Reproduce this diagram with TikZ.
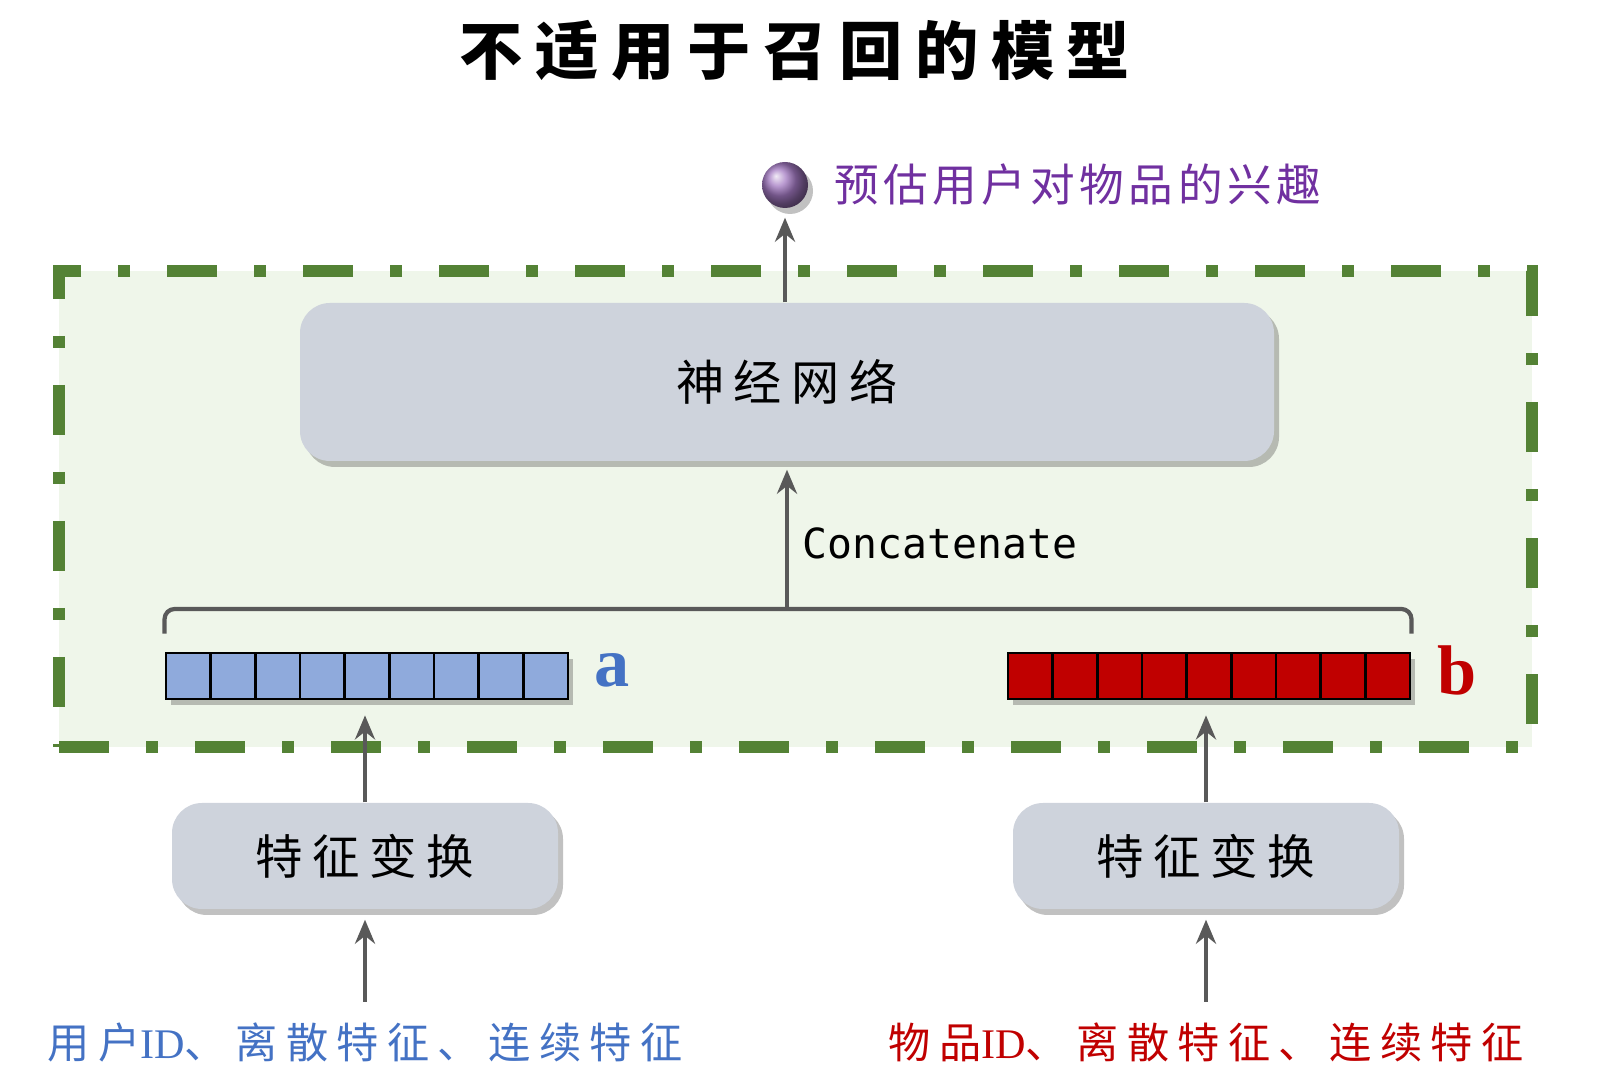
\documentclass[tikz,border=0pt]{standalone}
\usepackage{fontspec}
\usetikzlibrary{arrows.meta,shadows}
\newfontfamily\cjkA[LetterSpace=10]{Noto Sans CJK SC}
\newfontfamily\cjkB[LetterSpace=20]{Noto Sans CJK SC}
\newfontfamily\monofont{DejaVu Sans Mono}
\newfontfamily\seriffont{Liberation Serif}
\definecolor{arrgray}{HTML}{595959}
\definecolor{boxgray}{HTML}{CED3DC}
\definecolor{zonegreen}{HTML}{548235}
\definecolor{zonefill}{HTML}{EFF6EA}
\definecolor{ballpurple}{HTML}{7030A0}
\definecolor{userblue}{HTML}{4472C4}
\definecolor{cellblue}{HTML}{8FAADC}
\definecolor{itemred}{HTML}{C00000}

\tikzset{
  arr/.style={draw=arrgray, line width=1.2pt, -{Stealth[length=0.24cm,width=0.2cm]}},
  softshadow/.style={drop shadow={shadow xshift=0.05cm, shadow yshift=-0.06cm, opacity=0.35, fill=black!70}},
  nnbox/.style={rounded corners=0.3cm, fill=boxgray, inner sep=0pt, softshadow},
  cellA/.style={draw=black, line width=0.8pt, fill=cellblue, minimum width=0.4467cm, minimum height=0.46cm, inner sep=0pt, softshadow},
  cellB/.style={cellA, fill=itemred},
  zone/.style={draw=zonegreen, fill=zonefill, line width=0.12cm, dash pattern=on 0.5cm off 0.37cm on 0.12cm off 0.37cm, inner sep=0pt},
  bracket/.style={draw=arrgray, line width=1.2pt, rounded corners=0.1cm},
}

\begin{document}
\begin{tikzpicture}
    \useasboundingbox (0,0) rectangle (16.05,10.8);
    % dashed region
    \node[zone, minimum width=14.73cm, minimum height=4.76cm] (zone) at (7.955,5.71) {};
    % title
    \node (title) at (7.95,10.29) {\fontsize{18}{20}\selectfont\bfseries\cjkB 不适用于召回的模型};
    % output
    \node[circle, shading=ball, ball color=ballpurple!65!white, minimum size=0.46cm, inner sep=0pt, softshadow] (ball) at (7.85,8.95) {};
    \node[anchor=west, text=ballpurple] (pred) at (8.22,8.95) {\fontsize{12.7}{15}\selectfont\cjkA 预估用户对物品的兴趣};
    % neural network
    \node[nnbox, minimum width=9.74cm, minimum height=1.58cm] (nn) at (7.87,6.98) {\fontsize{13.7}{16}\selectfont\cjkB 神经网络};
    % vectors a and b
    \foreach \i in {0,...,8} {
        \node[cellA] (a\i) at ({1.66+0.4467*(\i+0.5)},4.04) {};
        \node[cellB] (b\i) at ({10.08+0.4467*(\i+0.5)},4.04) {};
    }
    \node[anchor=west, text=userblue] (la) at (5.82,4.1) {\fontsize{20}{22}\selectfont\seriffont\bfseries a};
    \node[anchor=west, text=itemred] (lb) at (14.25,4.1) {\fontsize{20}{22}\selectfont\seriffont\bfseries b};
    % concatenate
    \coordinate (brk) at (7.87,4.71);
    \draw[bracket] ([yshift=0.18cm]a0.north west) |- (brk) -| ([yshift=0.18cm]b8.north east);
    \node[anchor=west] (cat) at (7.90,5.37) {\fontsize{11.8}{14}\selectfont\monofont Concatenate};
    % feature transforms
    \node[nnbox, minimum width=3.86cm, minimum height=1.06cm] (fl) at (3.65,2.24) {\fontsize{13.5}{16}\selectfont\cjkB 特征变换};
    \node[nnbox, minimum width=3.86cm, minimum height=1.06cm] (fr) at (12.06,2.24) {\fontsize{13.5}{16}\selectfont\cjkB 特征变换};
    % inputs
    \node[text=userblue] (ul) at (3.65,0.38) {\fontsize{12}{14}\selectfont\cjkB 用户{\seriffont ID}、离散特征、连续特征};
    \node[text=itemred] (ur) at (12.06,0.38) {\fontsize{12}{14}\selectfont\cjkB 物品{\seriffont ID}、离散特征、连续特征};
    % arrows
    \draw[arr, shorten >=0.09cm] (nn.north -| ball) -- (ball.south);
    \draw[arr, shorten >=0.08cm] (brk) -- (nn.south);
    \draw[arr, shorten >=0.15cm] (fl.north) -- (fl.north |- a4.south);
    \draw[arr, shorten >=0.15cm] (fr.north) -- (fr.north |- b4.south);
    \draw[arr, shorten <=0.08cm, shorten >=0.1cm] (ul.north) -- (fl.south);
    \draw[arr, shorten <=0.08cm, shorten >=0.1cm] (ur.north) -- (fr.south);
\end{tikzpicture}
\end{document}
